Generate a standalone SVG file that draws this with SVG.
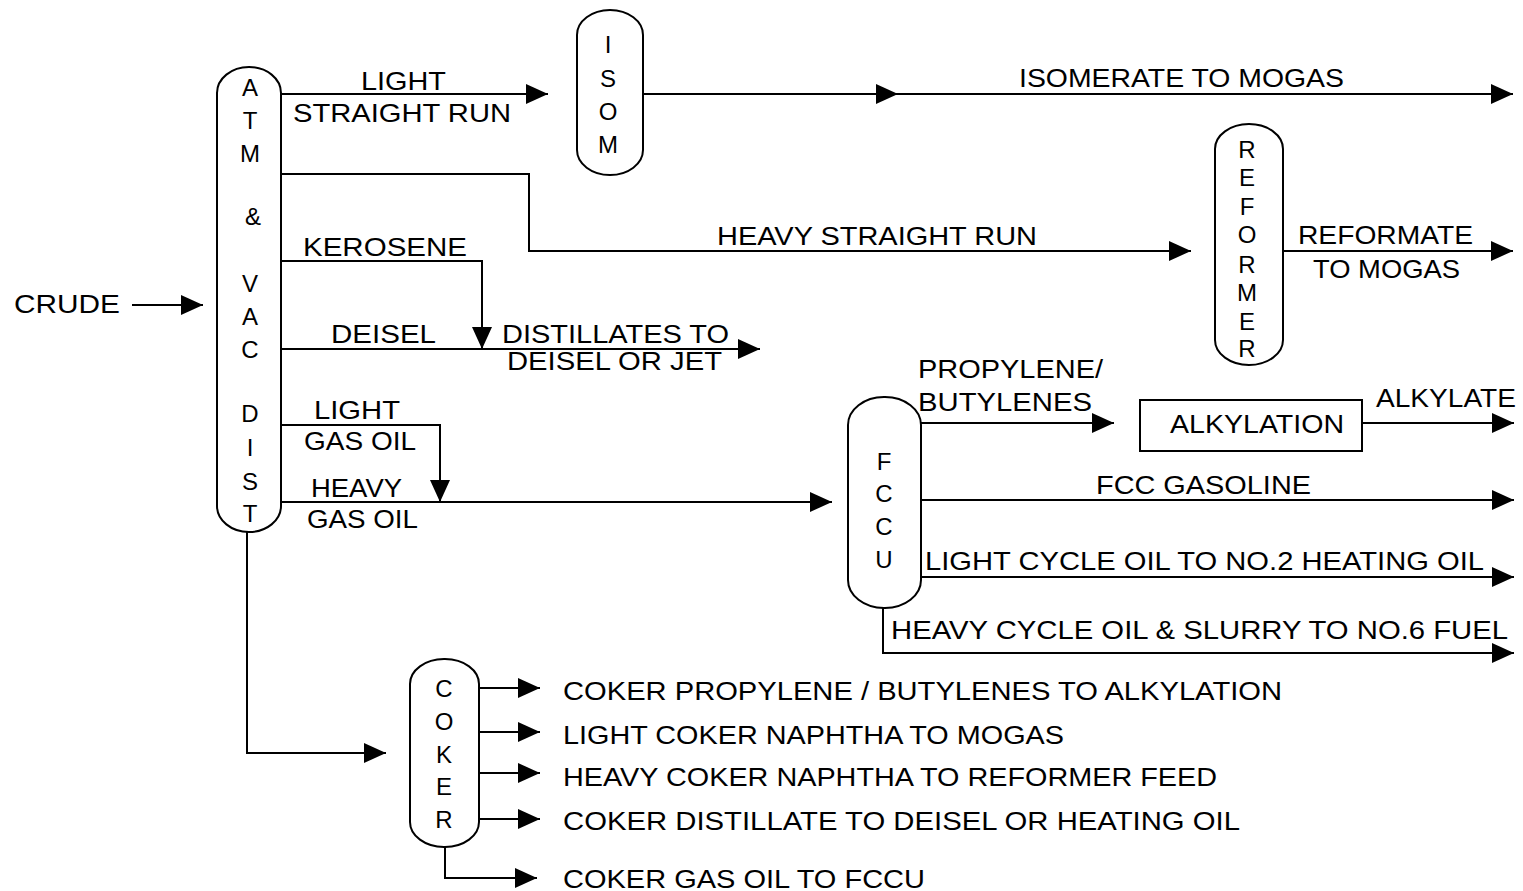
<svg xmlns="http://www.w3.org/2000/svg" width="1523" height="891" viewBox="0 0 1523 891">
<defs>
<marker id="ah" markerUnits="userSpaceOnUse" markerWidth="24" markerHeight="22" refX="22" refY="10" orient="auto" viewBox="0 0 24 22">
<path d="M0,0 L22,10 L0,20 z" fill="#000"/>
</marker>
</defs>
<style>
.v{fill:#fff;stroke:#000;stroke-width:2}
.c{fill:none;stroke:#000;stroke-width:2}
.a{marker-end:url(#ah)}
text{font-family:"Liberation Sans",Arial,sans-serif;font-size:26px;fill:#000}
.l{font-size:24px;text-anchor:middle}
</style>
<rect width="1523" height="891" fill="#fff"/>
<g id="connectors">
<path class="c a" d="M132,305 H203"/>
<path class="c a" d="M281,94 H548"/>
<path class="c a" d="M281,174 H529 V251 H1191"/>
<path class="c a" d="M281,261 H482 V349"/>
<path class="c a" d="M281,349 H760"/>
<path class="c a" d="M281,425 H440 V502"/>
<path class="c a" d="M281,502 H832"/>
<path class="c a" d="M247,532 V753 H386"/>
<path class="c a" d="M643,94 H898"/>
<path class="c a" d="M898,94 H1513"/>
<path class="c a" d="M1283,251 H1513"/>
<path class="c a" d="M921,423 H1114"/>
<path class="c a" d="M1362,423 H1514"/>
<path class="c a" d="M921,500 H1514"/>
<path class="c a" d="M921,577 H1514"/>
<path class="c a" d="M883,608 V653 H1514"/>
<path class="c a" d="M479,688 H540"/>
<path class="c a" d="M479,732 H540"/>
<path class="c a" d="M479,773 H540"/>
<path class="c a" d="M479,819 H540"/>
<path class="c a" d="M445,847 V878 H537"/>
</g>
<g id="labels">
<text x="14" y="313" textLength="106" lengthAdjust="spacingAndGlyphs">CRUDE</text>
<text x="361" y="90" textLength="85" lengthAdjust="spacingAndGlyphs">LIGHT</text>
<text x="293" y="122" textLength="218" lengthAdjust="spacingAndGlyphs">STRAIGHT RUN</text>
<text x="1019" y="87" textLength="325" lengthAdjust="spacingAndGlyphs">ISOMERATE TO MOGAS</text>
<text x="717" y="245" textLength="320" lengthAdjust="spacingAndGlyphs">HEAVY STRAIGHT RUN</text>
<text x="1298" y="244" textLength="175" lengthAdjust="spacingAndGlyphs">REFORMATE</text>
<text x="1313" y="278" textLength="147" lengthAdjust="spacingAndGlyphs">TO MOGAS</text>
<text x="303" y="256" textLength="164" lengthAdjust="spacingAndGlyphs">KEROSENE</text>
<text x="331" y="343" textLength="105" lengthAdjust="spacingAndGlyphs">DEISEL</text>
<text x="502" y="343" textLength="227" lengthAdjust="spacingAndGlyphs">DISTILLATES TO</text>
<text x="507" y="370" textLength="215" lengthAdjust="spacingAndGlyphs">DEISEL OR JET</text>
<text x="314" y="419" textLength="86" lengthAdjust="spacingAndGlyphs">LIGHT</text>
<text x="304" y="450" textLength="112" lengthAdjust="spacingAndGlyphs">GAS OIL</text>
<text x="311" y="497" textLength="91" lengthAdjust="spacingAndGlyphs">HEAVY</text>
<text x="307" y="528" textLength="111" lengthAdjust="spacingAndGlyphs">GAS OIL</text>
<text x="918" y="378" textLength="185" lengthAdjust="spacingAndGlyphs">PROPYLENE/</text>
<text x="918" y="411" textLength="174" lengthAdjust="spacingAndGlyphs">BUTYLENES</text>
<text x="1376" y="407" textLength="140" lengthAdjust="spacingAndGlyphs">ALKYLATE</text>
<text x="1096" y="494" textLength="215" lengthAdjust="spacingAndGlyphs">FCC GASOLINE</text>
<text x="925" y="570" textLength="559" lengthAdjust="spacingAndGlyphs">LIGHT CYCLE OIL TO NO.2 HEATING OIL</text>
<text x="891" y="639" textLength="617" lengthAdjust="spacingAndGlyphs">HEAVY CYCLE OIL &amp; SLURRY TO NO.6 FUEL</text>
<text x="563" y="700" textLength="719" lengthAdjust="spacingAndGlyphs">COKER PROPYLENE / BUTYLENES TO ALKYLATION</text>
<text x="563" y="744" textLength="501" lengthAdjust="spacingAndGlyphs">LIGHT COKER NAPHTHA TO MOGAS</text>
<text x="563" y="786" textLength="654" lengthAdjust="spacingAndGlyphs">HEAVY COKER NAPHTHA TO REFORMER FEED</text>
<text x="563" y="830" textLength="677" lengthAdjust="spacingAndGlyphs">COKER DISTILLATE TO DEISEL OR HEATING OIL</text>
<text x="563" y="888" textLength="362" lengthAdjust="spacingAndGlyphs">COKER GAS OIL TO FCCU</text>
</g>
<g id="atm">
<rect class="v" x="217" y="67" width="64" height="465" rx="32" ry="26"/>
<text class="l" x="250" y="96">A</text>
<text class="l" x="250" y="129">T</text>
<text class="l" x="250" y="162">M</text>
<text class="l" x="253" y="225">&amp;</text>
<text class="l" x="250" y="292">V</text>
<text class="l" x="250" y="325">A</text>
<text class="l" x="250" y="358">C</text>
<text class="l" x="250" y="422">D</text>
<text class="l" x="250" y="456">I</text>
<text class="l" x="250" y="490">S</text>
<text class="l" x="250" y="522">T</text>
</g>
<g id="isom">
<rect class="v" x="577" y="10" width="66" height="165" rx="33" ry="25"/>
<text class="l" x="608" y="53">I</text>
<text class="l" x="608" y="87">S</text>
<text class="l" x="608" y="120">O</text>
<text class="l" x="608" y="153">M</text>
</g>
<g id="reformer">
<rect class="v" x="1215" y="124" width="68" height="241" rx="34" ry="25"/>
<text class="l" x="1247" y="158">R</text>
<text class="l" x="1247" y="186">E</text>
<text class="l" x="1247" y="215">F</text>
<text class="l" x="1247" y="243">O</text>
<text class="l" x="1247" y="273">R</text>
<text class="l" x="1247" y="301">M</text>
<text class="l" x="1247" y="330">E</text>
<text class="l" x="1247" y="357">R</text>
</g>
<g id="fccu">
<rect class="v" x="848" y="397" width="73" height="211" rx="36" ry="28"/>
<text class="l" x="884" y="470">F</text>
<text class="l" x="884" y="502">C</text>
<text class="l" x="884" y="535">C</text>
<text class="l" x="884" y="568">U</text>
</g>
<g id="alkylation">
<rect class="v" x="1140" y="400" width="222" height="51"/>
<text x="1170" y="433" textLength="174" lengthAdjust="spacingAndGlyphs">ALKYLATION</text>
</g>
<g id="coker">
<rect class="v" x="410" y="659" width="69" height="188" rx="34" ry="25"/>
<text class="l" x="444" y="697">C</text>
<text class="l" x="444" y="730">O</text>
<text class="l" x="444" y="763">K</text>
<text class="l" x="444" y="795">E</text>
<text class="l" x="444" y="828">R</text>
</g>
</svg>
